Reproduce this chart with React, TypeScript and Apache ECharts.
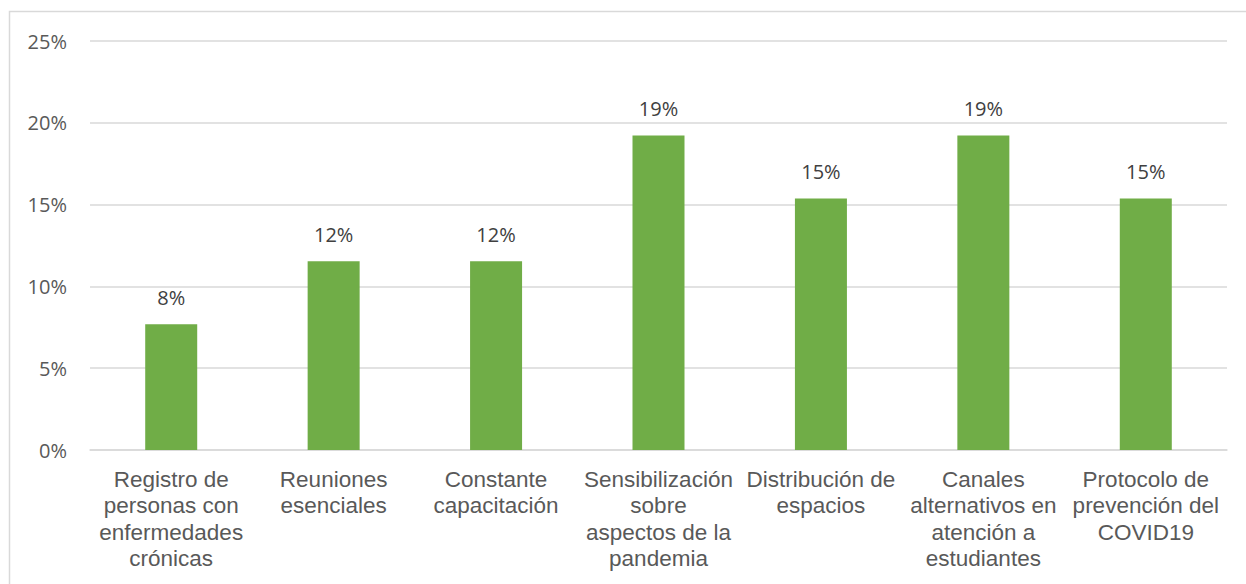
import React, { useEffect, useRef } from "react";
import * as echarts from "echarts";

const categories: string[] = [
  "Registro de\npersonas con\nenfermedades\ncrónicas",
  "Reuniones\nesenciales",
  "Constante\ncapacitación",
  "Sensibilización\nsobre\naspectos de la\npandemia",
  "Distribución de\nespacios",
  "Canales\nalternativos en\natención a\nestudiantes",
  "Protocolo de\nprevención del\nCOVID19",
];

const values: number[] = [7.69, 11.54, 11.54, 19.23, 15.38, 19.23, 15.38];

const yTicks: number[] = [0, 5, 10, 15, 20, 25];

export default function App() {
  const ref = useRef<HTMLDivElement>(null);
  useEffect(() => {
    document.body.style.margin = "0";
    if (!ref.current) return;
    const chart = echarts.init(ref.current, undefined, { renderer: "svg" });
    chart.setOption({
      animation: false,
      backgroundColor: "#ffffff",
      graphic: [
        {
          type: "rect",
          shape: { x: 9.5, y: 11.5, width: 1250, height: 590 },
          style: { fill: "none", stroke: "#d9d9d9", lineWidth: 1.5 },
          silent: true,
        },
      ],
      grid: { left: 90, right: 19, top: 41, bottom: 134, containLabel: false },
      xAxis: {
        type: "category",
        data: categories,
        axisLine: { show: true, lineStyle: { color: "#d9d9d9", width: 1.5 } },
        axisTick: { show: false },
        axisLabel: {
          interval: 0,
          margin: 16,
          color: "#595959",
          fontFamily: "Liberation Sans, Arial, sans-serif",
          fontSize: 22.5,
          lineHeight: 26.5,
        },
      },
      yAxis: {
        type: "value",
        min: yTicks[0],
        max: yTicks[yTicks.length - 1],
        interval: 5,
        axisLine: { show: false },
        axisTick: { show: false },
        splitLine: { lineStyle: { color: "#d9d9d9", width: 1.5 } },
        axisLabel: {
          margin: 23,
          color: "#595959",
          fontFamily: "Open Sans, sans-serif",
          fontSize: 20,
          formatter: (v: number) => `${v}%`,
        },
      },
      series: [
        {
          type: "bar",
          data: values,
          barWidth: 52,
          itemStyle: { color: "#70ad47" },
          label: {
            show: true,
            position: "top",
            distance: 17,
            color: "#404040",
            fontFamily: "Open Sans, sans-serif",
            fontSize: 20,
            formatter: (p: any) => `${Math.round(p.value)}%`,
          },
        },
      ],
    });
    return () => chart.dispose();
  }, []);
  return <div ref={ref} style={{ width: 1246, height: 584 }} />;
}
